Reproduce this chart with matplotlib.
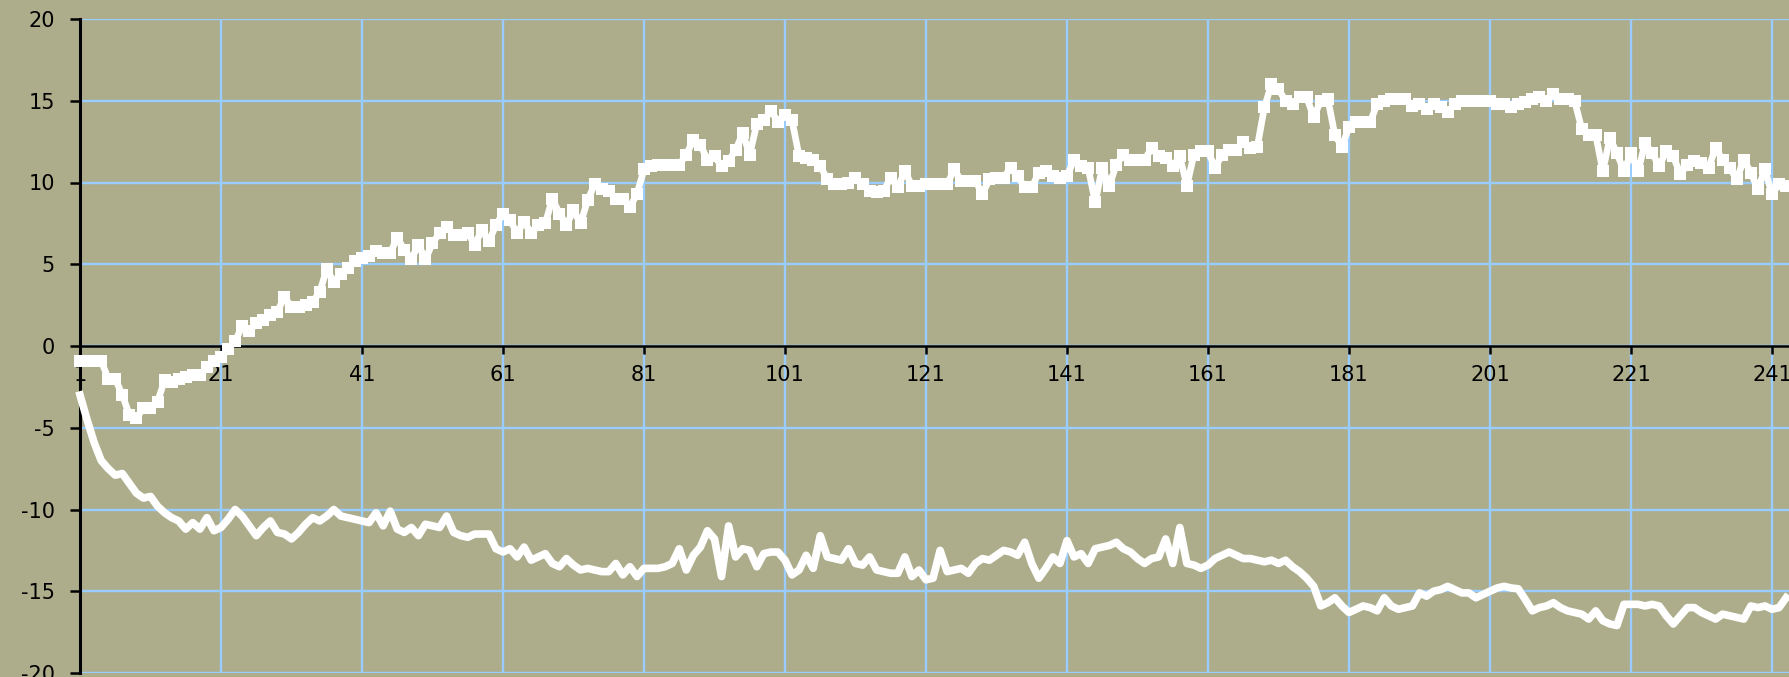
import numpy as np
import matplotlib
matplotlib.use("Agg")
import matplotlib.pyplot as plt

# Two daily series, one value per sample number (1..243)
upperSeries = [
    -0.9, -0.9, -0.9, -0.9, -2.0, -2.0, -3.0, -4.2, -4.4, -3.8,
    -3.8, -3.4, -2.1, -2.2, -2.0, -1.9, -1.8, -1.8, -1.3, -0.9,
    -0.7, -0.2, 0.3, 1.2, 0.9, 1.4, 1.6, 1.9, 2.1, 3.0,
    2.4, 2.4, 2.5, 2.7, 3.3, 4.7, 3.9, 4.4, 4.8, 5.2,
    5.4, 5.5, 5.8, 5.7, 5.7, 6.6, 5.9, 5.3, 6.2, 5.3,
    6.3, 6.9, 7.3, 6.8, 6.8, 6.9, 6.2, 7.1, 6.4, 7.4,
    8.1, 7.7, 6.9, 7.6, 6.9, 7.4, 7.5, 9.0, 8.1, 7.4,
    8.3, 7.5, 8.9, 9.9, 9.6, 9.5, 9.0, 9.0, 8.5, 9.3,
    10.8, 11.0, 11.1, 11.1, 11.1, 11.1, 11.7, 12.6, 12.3, 11.4,
    11.6, 11.0, 11.3, 12.0, 13.0, 11.7, 13.6, 13.8, 14.4, 13.7,
    14.1, 13.8, 11.6, 11.5, 11.4, 11.0, 10.2, 9.9, 9.9, 10.0,
    10.3, 9.9, 9.5, 9.4, 9.5, 10.3, 9.7, 10.7, 9.8, 9.8,
    9.9, 9.9, 9.9, 9.9, 10.8, 10.1, 10.1, 10.1, 9.3, 10.2,
    10.3, 10.3, 10.9, 10.4, 9.7, 9.7, 10.6, 10.7, 10.4, 10.3,
    10.4, 11.4, 11.0, 10.9, 8.8, 10.9, 9.8, 11.1, 11.7, 11.4,
    11.4, 11.4, 12.1, 11.6, 11.5, 11.0, 11.6, 9.8, 11.7, 11.9,
    11.9, 10.9, 11.7, 12.0, 12.0, 12.5, 12.1, 12.2, 14.6, 16.0,
    15.7, 15.0, 14.8, 15.2, 15.2, 14.0, 15.0, 15.1, 12.9, 12.2,
    13.4, 13.7, 13.7, 13.7, 14.8, 15.0, 15.1, 15.1, 15.1, 14.7,
    14.8, 14.5, 14.8, 14.6, 14.3, 14.8, 15.0, 15.0, 15.0, 15.0,
    15.0, 14.8, 14.8, 14.6, 14.8, 14.9, 15.1, 15.2, 15.0, 15.4,
    15.1, 15.1, 15.0, 13.3, 12.9, 12.9, 10.7, 12.7, 11.8, 10.7,
    11.8, 10.7, 12.4, 11.8, 11.0, 11.9, 11.6, 10.5, 11.1, 11.3,
    11.2, 10.9, 12.1, 11.4, 10.9, 10.2, 11.4, 10.6, 9.6, 10.8,
    9.3, 9.9, 9.8,
]

lowerSeries = [
    -3.0, -4.5, -5.9, -7.0, -7.5, -7.9, -7.8, -8.4, -9.0, -9.3,
    -9.2, -9.8, -10.2, -10.5, -10.7, -11.2, -10.8, -11.2, -10.5, -11.3,
    -11.1, -10.6, -10.0, -10.4, -11.0, -11.6, -11.1, -10.7, -11.4, -11.5,
    -11.8, -11.4, -10.9, -10.5, -10.7, -10.4, -10.0, -10.4, -10.5, -10.6,
    -10.7, -10.8, -10.2, -11.0, -10.1, -11.2, -11.4, -11.1, -11.6, -10.9,
    -11.0, -11.1, -10.4, -11.4, -11.6, -11.7, -11.5, -11.5, -11.5, -12.4,
    -12.6, -12.4, -12.9, -12.3, -13.1, -12.9, -12.7, -13.3, -13.5, -13.0,
    -13.4, -13.7, -13.6, -13.7, -13.8, -13.8, -13.3, -14.0, -13.5, -14.1,
    -13.6, -13.6, -13.6, -13.5, -13.3, -12.4, -13.7, -12.8, -12.3, -11.3,
    -11.8, -14.1, -11.0, -12.9, -12.4, -12.5, -13.5, -12.7, -12.6, -12.6,
    -13.1, -14.0, -13.7, -12.8, -13.6, -11.6, -12.9, -13.0, -13.1, -12.4,
    -13.3, -13.4, -12.9, -13.7, -13.8, -13.9, -13.9, -12.9, -14.1, -13.7,
    -14.3, -14.2, -12.5, -13.8, -13.7, -13.6, -13.9, -13.3, -13.0, -13.1,
    -12.8, -12.5, -12.6, -12.8, -12.0, -13.3, -14.2, -13.6, -12.9, -13.3,
    -11.9, -12.9, -12.7, -13.3, -12.4, -12.3, -12.2, -12.0, -12.4, -12.6,
    -13.0, -13.3, -13.0, -12.9, -11.8, -13.3, -11.1, -13.3, -13.4, -13.6,
    -13.4, -13.0, -12.8, -12.6, -12.8, -13.0, -13.0, -13.1, -13.2, -13.1,
    -13.3, -13.1, -13.5, -13.8, -14.2, -14.7, -15.9, -15.7, -15.4, -15.9,
    -16.3, -16.1, -15.9, -16.0, -16.2, -15.4, -15.9, -16.1, -16.0, -15.9,
    -15.1, -15.3, -15.0, -14.9, -14.7, -14.9, -15.1, -15.1, -15.4, -15.2,
    -15.0, -14.8, -14.7, -14.8, -14.85, -15.5, -16.2, -16.0, -15.9, -15.7,
    -16.0, -16.2, -16.3, -16.4, -16.7, -16.2, -16.8, -17.0, -17.1, -15.8,
    -15.8, -15.8, -15.9, -15.8, -15.9, -16.5, -17.0, -16.5, -16.0, -16.0,
    -16.3, -16.5, -16.7, -16.4, -16.5, -16.6, -16.7, -15.9, -16.0, -15.9,
    -16.1, -16.0, -15.4,
]

xTicks = [1, 21, 41, 61, 81, 101, 121, 141, 161, 181, 201, 221, 241]
yTicks = [-20, -15, -10, -5, 0, 5, 10, 15, 20]

samples = np.arange(1, len(upperSeries) + 1)

bgColour = "#adad8c"
gridColour = "#99ccff"

# wide sans for the tick numbers, plain hyphen for negatives
plt.rcParams['font.family'] = ['DejaVu Sans']
plt.rcParams['axes.unicode_minus'] = False

fig = plt.figure(figsize=(17.9, 6.77), dpi=100, facecolor=bgColour)
ax = fig.add_axes([80 / 1790, 4 / 677, 1710 / 1790, 654 / 677])
ax.set_facecolor(bgColour)

ax.plot(samples, lowerSeries, color="white", linewidth=5.5,
        solid_joinstyle="round", clip_on=False, zorder=3)
ax.plot(samples, upperSeries, color="white", linewidth=4.8,
        marker="s", markersize=8.5, markeredgewidth=0,
        clip_on=False, zorder=4)

ax.set_xlim(1, 1 + 1710 / 7.05)
ax.set_ylim(-20, 20)
ax.set_xticks(xTicks)
ax.set_yticks(yTicks)

# light blue grid under everything
ax.set_axisbelow(True)
ax.grid(True, color=gridColour, linewidth=1.7)

# axis line sits at y = 0, labels hang below it
ax.spines['top'].set_visible(False)
ax.spines['right'].set_visible(False)
ax.spines['bottom'].set_position(('data', 0))
ax.spines['bottom'].set_linewidth(1.8)
ax.spines['left'].set_linewidth(2.2)
ax.spines['bottom'].set_zorder(2.6)

ax.tick_params(axis='x', direction='out', length=6, width=1.8,
               pad=8, labelsize=15, colors='black')
ax.tick_params(axis='y', direction='out', length=7, width=1.8,
               pad=11, labelsize=15, colors='black')

fig.savefig("out.png", dpi=100, facecolor=bgColour)
